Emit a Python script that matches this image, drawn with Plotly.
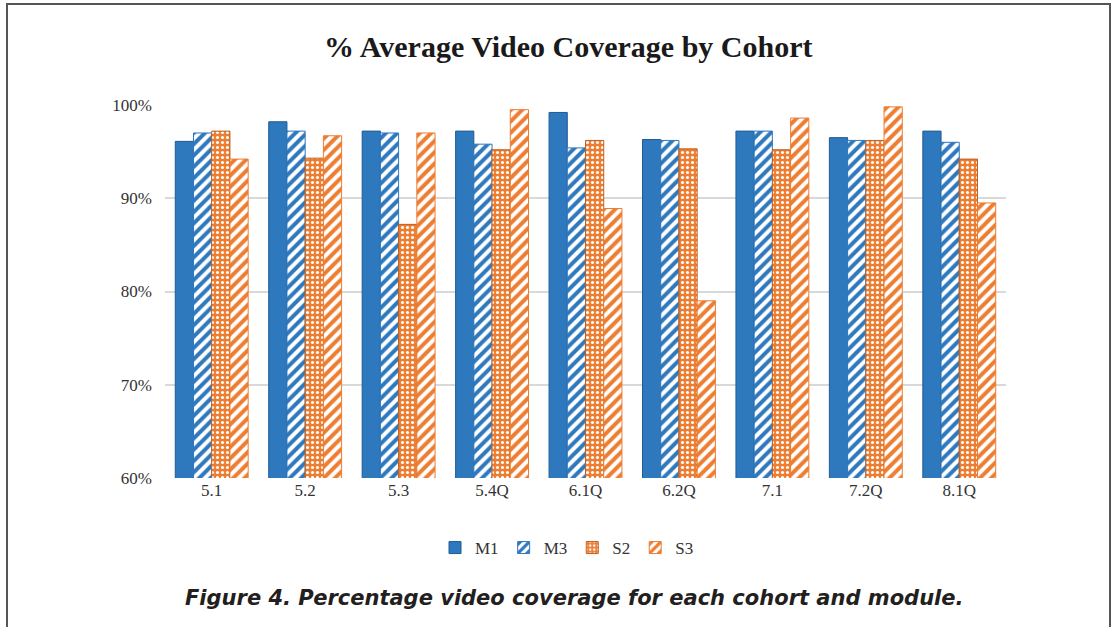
import plotly.graph_objects as go

categories = ["5.1", "5.2", "5.3", "5.4Q", "6.1Q", "6.2Q", "7.1", "7.2Q", "8.1Q"]
m1 = [96.1, 98.2, 97.2, 97.2, 99.2, 96.3, 97.2, 96.5, 97.2]
m3 = [97.0, 97.2, 97.0, 95.8, 95.4, 96.2, 97.2, 96.2, 96.0]
s2 = [97.2, 94.3, 87.2, 95.2, 96.2, 95.3, 95.2, 96.2, 94.2]
s3 = [94.2, 96.7, 97.0, 99.5, 88.9, 79.0, 98.6, 99.8, 89.5]
y_ticks = [60, 70, 80, 90, 100]
y_tick_text = [f"{v}%" for v in y_ticks]

BLUE = "#2E78BD"
BLUE_D = "#1F5C94"
ORANGE = "#ED7D31"
ORANGE_D = "#C0601F"

fig = go.Figure()
fig.add_trace(go.Bar(name="M1", x=categories, y=m1,
                     marker=dict(color=BLUE, line=dict(color=BLUE_D, width=1))))
fig.add_trace(go.Bar(name="M3", x=categories, y=m3,
                     marker=dict(color="white", line=dict(color=BLUE, width=1),
                                 pattern=dict(shape="/", fgcolor=BLUE, bgcolor="white",
                                              size=8, solidity=0.5, fgopacity=1))))
fig.add_trace(go.Bar(name="S2", x=categories, y=s2,
                     marker=dict(color=ORANGE, line=dict(color=ORANGE_D, width=1),
                                 pattern=dict(shape=".", fgcolor="white", bgcolor=ORANGE,
                                              size=5, solidity=0.3, fgopacity=1))))
fig.add_trace(go.Bar(name="S3", x=categories, y=s3,
                     marker=dict(color="white", line=dict(color=ORANGE, width=1),
                                 pattern=dict(shape="/", fgcolor=ORANGE, bgcolor="white",
                                              size=8, solidity=0.5, fgopacity=1))))

L, R, T, B = 165, 111, 105, 149
W, H = 1117, 627
pw = W - L - R
ph = H - T - B

def px_x(x):
    return (x - L) / pw

def px_y(y):
    return (H - B - y) / ph

fig.add_shape(type="rect", xref="paper", yref="paper",
              x0=px_x(7), x1=px_x(1110), y0=px_y(640), y1=px_y(4),
              line=dict(color="#555555", width=2), fillcolor="rgba(0,0,0,0)", layer="below")

fig.add_annotation(text="<b><i>Figure 4. Percentage video coverage for each cohort and module.</i></b>",
                   xref="paper", yref="paper", x=px_x(574), y=px_y(598),
                   xanchor="center", yanchor="middle", showarrow=False,
                   font=dict(family="DejaVu Sans", size=21, color="#231F20"))

fig.add_annotation(text="<b>% Average Video Coverage by Cohort</b>",
                   xref="paper", yref="paper", x=px_x(568), y=px_y(47),
                   xanchor="center", yanchor="middle", showarrow=False,
                   font=dict(family="Liberation Serif", size=30, color="#1a1a1a"))

fig.update_layout(
    width=W, height=H,
    margin=dict(l=L, r=R, t=T, b=B),
    paper_bgcolor="white", plot_bgcolor="white",
    barmode="group", bargap=0.22, bargroupgap=0.0,
    font=dict(family="Liberation Serif", size=16, color="#333333"),
    legend=dict(orientation="h", x=px_x(567), xanchor="center", y=px_y(548), yanchor="middle",
                font=dict(family="Liberation Serif", size=17, color="#333333"),
                itemwidth=30, tracegroupgap=0),
    yaxis=dict(range=[60, 100], tickvals=y_ticks, ticktext=y_tick_text,
               showgrid=True, gridcolor="#D9D9D9", gridwidth=1.5,
               zeroline=False, showline=False, ticks="", ticklen=0,
               ticklabelstandoff=12,
               tickfont=dict(family="Liberation Serif", size=17, color="#333333")),
    xaxis=dict(showline=False, ticks="",
               tickfont=dict(family="Liberation Serif", size=17, color="#333333")),
)

fig.write_html("out.html")
